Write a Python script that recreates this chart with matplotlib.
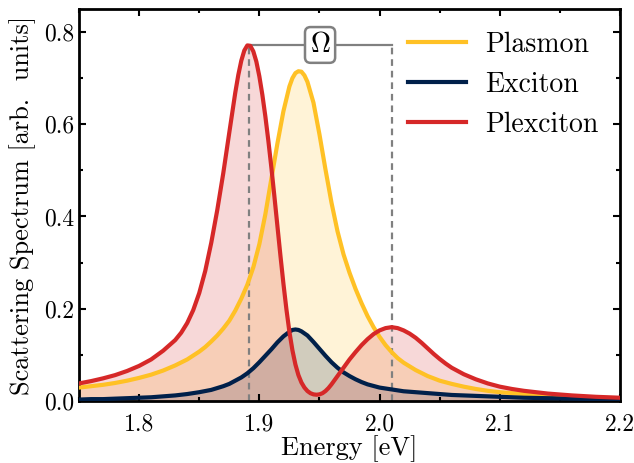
import numpy as np
from matplotlib import pyplot as plt

plt.rcParams['font.family'] = ['cmr10', 'DejaVu Serif']
plt.rcParams['mathtext.fontset'] = 'cm'
plt.rcParams['axes.formatter.use_mathtext'] = True

# values, energy in eV
e_plasmon = [1.75, 1.76, 1.77, 1.78, 1.79, 1.80, 1.81, 1.82, 1.83, 1.84, 1.85, 1.855,
             1.86, 1.865, 1.87, 1.875, 1.88, 1.885, 1.89, 1.895, 1.90, 1.905, 1.91,
             1.915, 1.92, 1.925, 1.9275, 1.93, 1.9325, 1.935, 1.9375, 1.94, 1.945, 1.95,
             1.955, 1.96, 1.965, 1.97, 1.975, 1.98, 1.985, 1.99, 1.995, 2.00, 2.005,
             2.01, 2.015, 2.02, 2.03, 2.04, 2.05, 2.06, 2.07, 2.08, 2.09, 2.10, 2.12,
             2.14, 2.16, 2.18, 2.20]
plasmon = [0.029, 0.032, 0.035, 0.039, 0.044, 0.050, 0.057, 0.066, 0.077, 0.090, 0.107, 0.117,
           0.129, 0.142, 0.157, 0.174, 0.196, 0.222, 0.252, 0.290, 0.340, 0.405, 0.482,
           0.558, 0.628, 0.682, 0.700, 0.711, 0.715, 0.714, 0.706, 0.692, 0.647, 0.578,
           0.502, 0.430, 0.368, 0.318, 0.278, 0.243, 0.212, 0.184, 0.160, 0.139, 0.121,
           0.106, 0.093, 0.083, 0.067, 0.054, 0.044, 0.037, 0.031, 0.026, 0.022, 0.019, 0.015,
           0.012, 0.009, 0.007, 0.006]

e_exciton = [1.75, 1.76, 1.77, 1.78, 1.79, 1.80, 1.81, 1.82, 1.83, 1.84, 1.85, 1.86,
             1.865, 1.87, 1.875, 1.88, 1.885, 1.89, 1.895, 1.90, 1.905, 1.91, 1.915,
             1.92, 1.925, 1.9275, 1.93, 1.9325, 1.935, 1.94, 1.945, 1.95, 1.955, 1.96,
             1.965, 1.97, 1.975, 1.98, 1.985, 1.99, 2.00, 2.01, 2.02, 2.03, 2.04, 2.05,
             2.06, 2.08, 2.10, 2.12, 2.14, 2.16, 2.18, 2.20]
exciton = [0.003, 0.004, 0.004, 0.005, 0.006, 0.007, 0.008, 0.010, 0.012, 0.015, 0.019, 0.024,
           0.028, 0.032, 0.037, 0.044, 0.051, 0.060, 0.071, 0.084, 0.098, 0.112, 0.127,
           0.140, 0.150, 0.154, 0.155, 0.154, 0.151, 0.142, 0.128, 0.113, 0.098, 0.084,
           0.072, 0.062, 0.054, 0.047, 0.041, 0.036, 0.029, 0.025, 0.021, 0.019, 0.017, 0.015,
           0.013, 0.011, 0.009, 0.007, 0.006, 0.005, 0.004, 0.003]

e_plexciton = [1.75, 1.76, 1.77, 1.78, 1.79, 1.80, 1.81, 1.82, 1.83, 1.835, 1.84, 1.845,
               1.85, 1.855, 1.86, 1.865, 1.87, 1.875, 1.88, 1.8825, 1.885, 1.8875, 1.89,
               1.8925, 1.895, 1.8975, 1.90, 1.9025, 1.905, 1.9075, 1.91, 1.9125, 1.915,
               1.9175, 1.92, 1.9225, 1.925, 1.9275, 1.93, 1.9325, 1.935, 1.9375, 1.94,
               1.9425, 1.945, 1.9475, 1.95, 1.9525, 1.955, 1.9575, 1.96, 1.9625, 1.965,
               1.9675, 1.97, 1.975, 1.98, 1.985, 1.99, 1.995, 2.00, 2.005, 2.01, 2.015,
               2.02, 2.025, 2.03, 2.035, 2.04, 2.045, 2.05, 2.055, 2.06, 2.07, 2.08, 2.09,
               2.10, 2.11, 2.12, 2.14, 2.16, 2.18, 2.20]
plexciton = [0.038, 0.043, 0.049, 0.056, 0.065, 0.076, 0.090, 0.109, 0.132, 0.148, 0.169, 0.197,
             0.234, 0.282, 0.343, 0.414, 0.494, 0.582, 0.669, 0.707, 0.738, 0.760, 0.771,
             0.770, 0.758, 0.736, 0.704, 0.664, 0.617, 0.564, 0.506, 0.444, 0.380,
             0.316, 0.255, 0.199, 0.150, 0.110, 0.079, 0.056, 0.040, 0.029, 0.0215,
             0.0168, 0.0143, 0.0135, 0.0143, 0.0168, 0.0215, 0.028, 0.036, 0.045, 0.054,
             0.063, 0.072, 0.090, 0.106, 0.121, 0.134, 0.145, 0.153, 0.158, 0.160, 0.158,
             0.153, 0.146, 0.137, 0.126, 0.114, 0.102, 0.091, 0.081, 0.072, 0.058, 0.047, 0.038,
             0.031, 0.026, 0.022, 0.016, 0.012, 0.009, 0.007]

labels = ['Plasmon', 'Exciton', 'Plexciton']
colors = ['#FFC125', '#00204A', '#D62828']

# Rabi splitting marker
e_low, e_high, peak = 1.891, 2.01, 0.772

fig = plt.figure(figsize=(6.34, 4.63), dpi=100)
ax = fig.add_axes([0.1246, 0.134, 0.8534, 0.8466])

curves = [(e_plasmon, plasmon), (e_exciton, exciton), (e_plexciton, plexciton)]

for (x, y), c in zip(curves, colors):
    ax.fill_between(x, 0, y, color=c, alpha=0.18, lw=0)

ax.plot([e_low, e_low], [0, peak], '--', color='gray', lw=1.6, dashes=(3, 2.2), zorder=2)
ax.plot([e_high, e_high], [0, peak], '--', color='gray', lw=1.6, dashes=(3, 2.2), zorder=2)
ax.plot([e_low, e_high], [peak, peak], '-', color='gray', lw=1.6, zorder=2)
ax.text((e_low + e_high) / 2, peak, r'$\Omega$', fontsize=20, ha='center', va='center',
        bbox=dict(boxstyle='round,pad=0.17,rounding_size=0.2', fc='white', ec='gray', lw=1.8), zorder=4)

for (x, y), c, lab in zip(curves, colors, labels):
    ax.plot(x, y, color=c, lw=3, label=lab, zorder=3)

ax.set_xlim(1.75, 2.2)
ax.set_ylim(0, 0.85)
ax.set_xticks([1.8, 1.9, 2.0, 2.1, 2.2])
ax.set_xticks(np.arange(1.75, 2.21, 0.05), minor=True)
ax.set_yticks([0.0, 0.2, 0.4, 0.6, 0.8])
ax.set_yticks(np.arange(0, 0.86, 0.1), minor=True)
ax.xaxis.set_major_formatter(plt.FormatStrFormatter('%.1f'))
ax.yaxis.set_major_formatter(plt.FormatStrFormatter('%.1f'))
ax.tick_params(which='both', direction='in', top=True, right=True, width=1.5, labelsize=17)
ax.tick_params(which='major', length=5)
ax.tick_params(which='minor', length=3)
ax.tick_params(axis='x', pad=9)
for s in ax.spines.values():
    s.set_linewidth(2)

ax.set_xlabel('Energy [eV]', fontsize=19, labelpad=0)
ax.set_ylabel('Scattering Spectrum [arb.  units]', fontsize=19, labelpad=6)

ax.legend(loc='upper left', bbox_to_anchor=(0.608, 0.943), frameon=False, fontsize=20,
          handlelength=2.1, handletextpad=0.68, labelspacing=0.5, borderaxespad=0, borderpad=0)

plt.savefig('out.png', dpi=100)
